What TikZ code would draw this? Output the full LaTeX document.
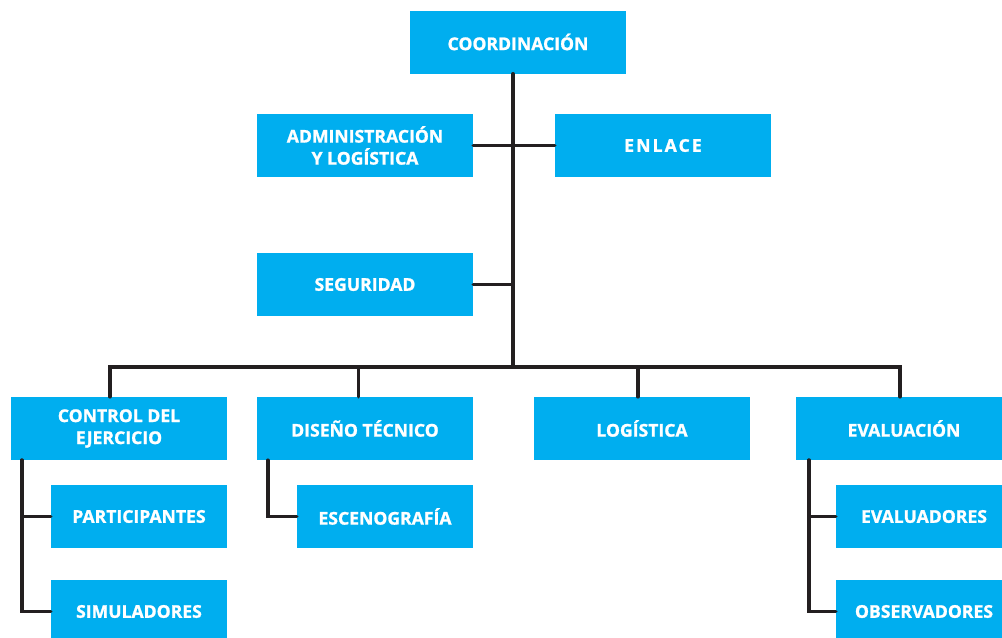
\documentclass[tikz,border=0pt]{standalone}
\usepackage{fontspec}
\setmainfont{Open Sans}[BoldFeatures={FakeBold=1.2}]
\usetikzlibrary{positioning}
\definecolor{cajaazul}{HTML}{00AEEF}
\definecolor{trazo}{HTML}{231F20}

\begin{document}
\begin{tikzpicture}[x=0.75pt,y=-0.75pt,
			every node/.style={
				fill=cajaazul,
				text=white,
				inner sep=0pt,
				minimum height=47.25pt,
				align=center,
				font=\fontsize{13.2}{16.5}\selectfont\bfseries
			},
			ancha/.style={minimum width=162pt},
			corta/.style={minimum width=132pt},
			link/.style={draw=trazo,line width=2.7pt,line cap=round}]
			
			\useasboundingbox (0,0) rectangle (1002,637);
			
			\node (coord)[ancha] at (518,42){COORDINACIÓN};
			
			\node (admin)[ancha] at (365,145.5){ADMINISTRACIÓN\\Y LOGÍSTICA};
			
			\node (enlace)[ancha] at (663,145.5){\addfontfeature{LetterSpace=12}ENLACE};
			
			\node (seguridad)[ancha] at (365,284.5){SEGURIDAD};
			
			\node (control)[ancha] at (119,428.5){CONTROL DEL\\EJERCICIO};
			
			\node (diseno)[ancha] at (365,428.5){DISEÑO TÉCNICO};
			
			\node (logistica)[ancha] at (642,428.5){LOGÍSTICA};
			
			\node (evaluacion)[ancha] at (904,428.5){EVALUACIÓN};
			
			\node (participantes)[corta] at (139,516.5){PARTICIPANTES};
			
			\node (simuladores)[corta] at (139,611.5){SIMULADORES};
			
			\node (escenografia)[corta] at (385,516.5){ESCENOGRAFÍA};
			
			\node (evaluadores)[corta] at (924,516.5){EVALUADORES};
			
			\node (observadores)[corta] at (924,611.5){OBSERVADORES};
			
			\coordinate (tronco) at (513,367);
			
			\draw[link](coord.south -| tronco)--(tronco);
			
			\draw[link](admin.east)--(enlace.west);
			
			\draw[link](seguridad.east)--(seguridad.east -| tronco);
			
			\draw[link]([xshift=-6.75pt]control.north)|-(tronco);
			
			\draw[link](tronco)-|([xshift=-3pt]evaluacion.north);
			
			\draw[link]([xshift=-5pt]diseno.north)--([xshift=-5pt]diseno.north |- tronco);
			
			\draw[link]([xshift=-3pt]logistica.north)--([xshift=-3pt]logistica.north |- tronco);
			
			\draw[link]([xshift=8.25pt]control.south west)|-(participantes.west);
			
			\draw[link]([xshift=8.25pt]control.south west)|-(simuladores.west);
			
			\draw[link]([xshift=8.25pt]diseno.south west)|-(escenografia.west);
			
			\draw[link]([xshift=9.75pt]evaluacion.south west)|-(evaluadores.west);
			
			\draw[link]([xshift=9.75pt]evaluacion.south west)|-(observadores.west);
			
		\end{tikzpicture}
\end{document}
